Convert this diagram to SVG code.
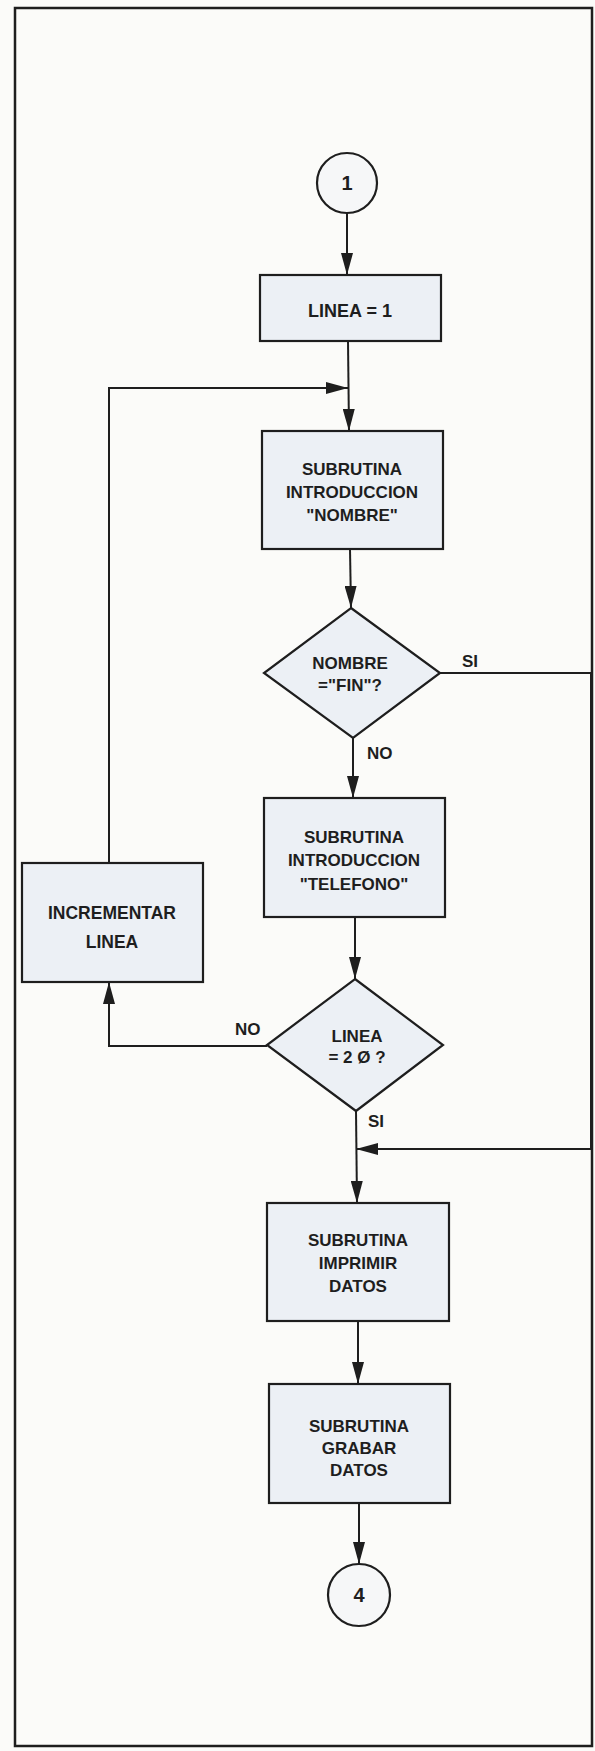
<svg xmlns="http://www.w3.org/2000/svg" width="595" height="1751" viewBox="0 0 595 1751">
<defs>
<marker id="ah" viewBox="0 0 22 12" refX="22" refY="6" markerWidth="22" markerHeight="12" markerUnits="userSpaceOnUse" orient="auto">
<path d="M0,0 L22,6 L0,12 z" fill="#1e1e1e"/>
</marker>
<style>
.box{fill:#ecf0f5;stroke:#1e1e1e;stroke-width:2.2}
.conn{fill:none;stroke:#1e1e1e;stroke-width:2}
.t{font-family:"Liberation Sans",Arial,sans-serif;font-weight:bold;font-size:17px;fill:#1e1e1e;text-anchor:middle}
.lbl{font-family:"Liberation Sans",Arial,sans-serif;font-weight:bold;font-size:17px;fill:#1e1e1e}
</style>
</defs>
<rect x="0" y="0" width="595" height="1751" fill="#fbfbf9"/>
<rect x="15" y="8" width="577" height="1738" fill="none" stroke="#1e1e1e" stroke-width="2.5"/>

<g id="connectors">
<path class="conn" d="M347,213 L347,275" marker-end="url(#ah)"/>
<path class="conn" d="M348,341 L349,431" marker-end="url(#ah)"/>
<path class="conn" d="M109,863 L109,388 L348,388" marker-end="url(#ah)"/>
<path class="conn" d="M350,549 L351,608" marker-end="url(#ah)"/>
<path class="conn" d="M353,738 L353,798" marker-end="url(#ah)"/>
<path class="conn" d="M440,673 L591,673 L591,1149 L356,1149" marker-end="url(#ah)"/>
<path class="conn" d="M355,917 L355,979" marker-end="url(#ah)"/>
<path class="conn" d="M267,1046 L109,1046 L109,982" marker-end="url(#ah)"/>
<path class="conn" d="M356,1111 L357,1203" marker-end="url(#ah)"/>
<path class="conn" d="M358,1321 L358,1384" marker-end="url(#ah)"/>
<path class="conn" d="M359,1503 L359,1564" marker-end="url(#ah)"/>
<text class="lbl" x="462" y="667">SI</text>
<text class="lbl" x="367" y="759">NO</text>
<text class="lbl" x="235" y="1035">NO</text>
<text class="lbl" x="368" y="1127">SI</text>
</g>

<g id="start">
<circle cx="347" cy="183" r="30" fill="#f6f7f8" stroke="#1e1e1e" stroke-width="2.2"/>
<text class="t" x="347" y="190" style="font-size:20px">1</text>
</g>

<g id="linea1">
<rect class="box" x="260" y="275" width="181" height="66"/>
<text class="t" x="350" y="317" style="font-size:18px">LINEA = 1</text>
</g>

<g id="nombre">
<rect class="box" x="262" y="431" width="181" height="118"/>
<text class="t" x="352" y="475">SUBRUTINA</text>
<text class="t" x="352" y="498">INTRODUCCION</text>
<text class="t" x="352" y="521">"NOMBRE"</text>
</g>

<g id="fin">
<polygon class="box" points="351,608 440,673 353,738 264,673"/>
<text class="t" x="350" y="669">NOMBRE</text>
<text class="t" x="350" y="691">="FIN"?</text>
</g>

<g id="telefono">
<rect class="box" x="264" y="798" width="181" height="119"/>
<text class="t" x="354" y="843">SUBRUTINA</text>
<text class="t" x="354" y="866">INTRODUCCION</text>
<text class="t" x="354" y="890">"TELEFONO"</text>
</g>

<g id="incrementar">
<rect class="box" x="22" y="863" width="181" height="119"/>
<text class="t" x="112" y="919" style="font-size:17.5px">INCREMENTAR</text>
<text class="t" x="112" y="948" style="font-size:17.5px">LINEA</text>
</g>

<g id="linea20">
<polygon class="box" points="355,979 443,1045 356,1111 267,1045"/>
<text class="t" x="357" y="1042">LINEA</text>
<text class="t" x="357" y="1063">= 2 Ø ?</text>
</g>

<g id="imprimir">
<rect class="box" x="267" y="1203" width="182" height="118"/>
<text class="t" x="358" y="1246">SUBRUTINA</text>
<text class="t" x="358" y="1269">IMPRIMIR</text>
<text class="t" x="358" y="1292">DATOS</text>
</g>

<g id="grabar">
<rect class="box" x="269" y="1384" width="181" height="119"/>
<text class="t" x="359" y="1432">SUBRUTINA</text>
<text class="t" x="359" y="1454">GRABAR</text>
<text class="t" x="359" y="1476">DATOS</text>
</g>

<g id="end">
<circle cx="359" cy="1595" r="31" fill="#f6f7f8" stroke="#1e1e1e" stroke-width="2.2"/>
<text class="t" x="359" y="1602" style="font-size:20px">4</text>
</g>
</svg>
